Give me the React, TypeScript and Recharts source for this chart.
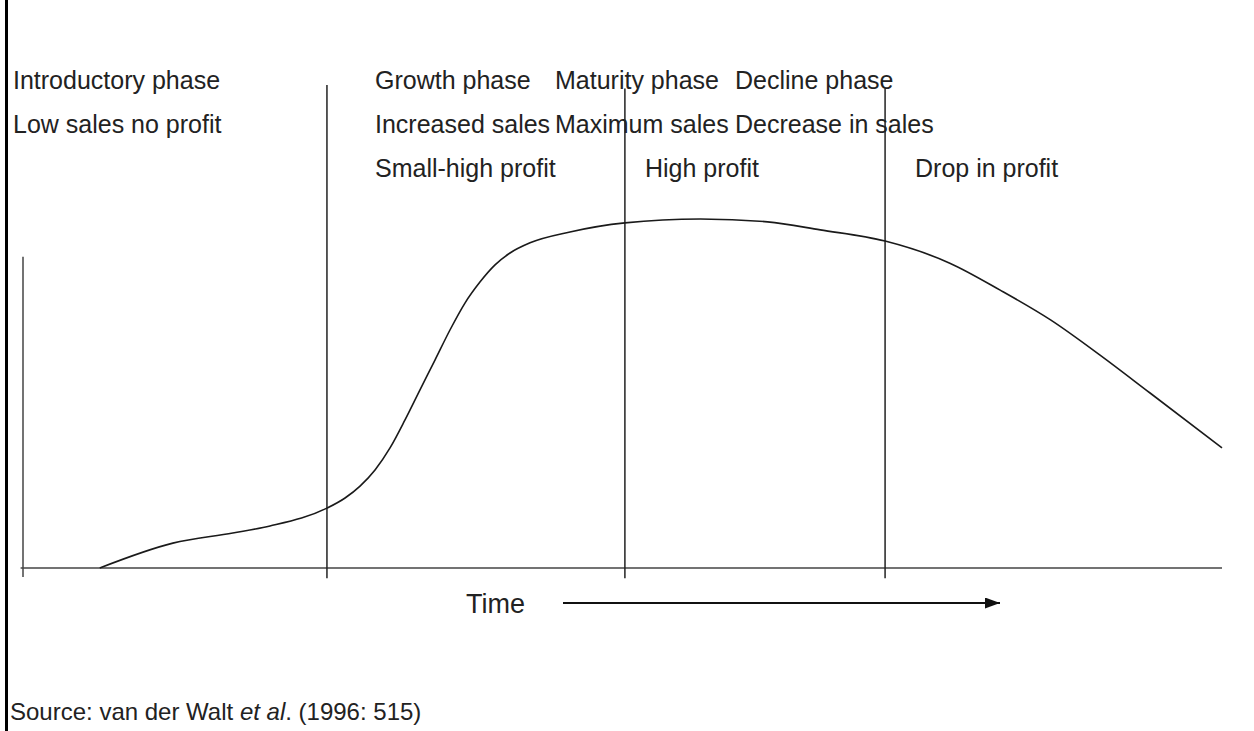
import { LineChart, Line, XAxis, YAxis, ReferenceLine } from 'recharts';

// time runs 0..100 along the axis, sales 0..100 (peak of the curve)
const timeValues = [6.4, 12.5, 17.5, 20.6, 25.35, 26.86, 28.11, 29.36, 30.61, 31.86, 33.11, 34.36, 35.61, 36.86, 38.11, 39.37, 40.62, 42.29, 45.62, 50.2, 56.5, 62.1, 66.5, 71.9, 77.3, 81.5, 85.7, 89.8, 94.0, 100];
const salesValues = [0, 7.1, 10.0, 12.0, 17.1, 20.0, 23.4, 28.0, 34.3, 42.3, 50.9, 59.4, 68.0, 75.7, 81.7, 86.6, 90.0, 92.9, 96.0, 98.6, 99.7, 98.9, 96.6, 93.4, 87.1, 79.4, 70.9, 60.9, 50.0, 34.3];

// phase boundaries on the time axis, with how far each divider reaches up
const phaseBounds = [25.35, 50.2, 71.9];
const boundTops = [138, 137, 137];

const row1 = ['Introductory phase', 'Growth phase', 'Maturity phase', 'Decline phase'];
const row2 = ['Low sales no profit', 'Increased sales', 'Maximum sales', 'Decrease in sales'];
const row3 = ['', 'Small-high profit', 'High profit', 'Drop in profit'];

const data = timeValues.map((t, i) => ({ t, sales: salesValues[i] }));

const FONT = '"Liberation Sans", Arial, sans-serif';
const row1X = [13, 375, 555, 735];
const row2X = [13, 375, 555, 735];
const row3X = [0, 375, 645, 915];

export default function App() {
  return (
    <div style={{ position: 'relative', width: 1254, height: 731, background: '#fff', overflow: 'hidden' }}>
      <style>{`body{margin:0}`}</style>
      <div style={{ position: 'absolute', left: 5, top: 0, width: 3, height: 731, background: '#000' }} />
      <LineChart width={1254} height={731} data={data} margin={{ top: 218, right: 32, left: 23, bottom: 163 }}>
        <XAxis type="number" dataKey="t" domain={[0, 100]} hide />
        <YAxis type="number" domain={[0, 100]} hide />
        <ReferenceLine segment={[{ x: -0.2, y: 0 }, { x: 100, y: 0 }]} stroke="#444" strokeWidth={1.5} ifOverflow="visible" />
        <ReferenceLine segment={[{ x: 0, y: -2.6 }, { x: 0, y: 88.9 }]} stroke="#444" strokeWidth={1.5} ifOverflow="visible" />
        {phaseBounds.map((b, i) => (
          <ReferenceLine key={b} segment={[{ x: b, y: -2.9 }, { x: b, y: boundTops[i] }]} stroke="#222" strokeWidth={1.5} ifOverflow="visible" />
        ))}
        <Line type="monotone" dataKey="sales" stroke="#1a1a1a" strokeWidth={1.6} dot={false} isAnimationActive={false} />
      </LineChart>
      <svg width={1254} height={731} style={{ position: 'absolute', left: 0, top: 0, pointerEvents: 'none' }}>
        <defs>
          <marker id="arr" markerWidth="15" markerHeight="11" refX="15" refY="5.5" orient="auto" markerUnits="userSpaceOnUse">
            <path d="M0,0 L15,5.5 L0,11 Z" fill="#111" />
          </marker>
        </defs>
        <g fontFamily={FONT} fontSize={25} fill="#222">
          {row1.map((s, i) => <text key={'a' + i} x={row1X[i]} y={89}>{s}</text>)}
          {row2.map((s, i) => <text key={'b' + i} x={row2X[i]} y={133}>{s}</text>)}
          {row3.map((s, i) => s ? <text key={'c' + i} x={row3X[i]} y={177}>{s}</text> : null)}
          <text x={466} y={613} fontSize={27}>Time</text>
          <text x={10} y={720} fontSize={24}>
            Source: van der Walt <tspan fontStyle="italic">et al</tspan>. (1996: 515)
          </text>
        </g>
        <line x1={563} y1={603} x2={1000} y2={603} stroke="#111" strokeWidth={2} markerEnd="url(#arr)" />
      </svg>
    </div>
  );
}
